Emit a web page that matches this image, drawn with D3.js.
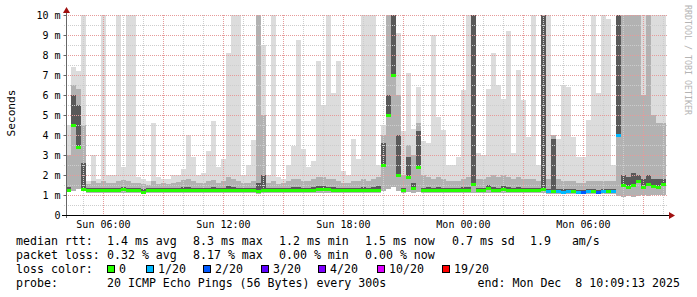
<!DOCTYPE html>
<html>
<head>
<meta charset="utf-8">
<script src="https://cdn.jsdelivr.net/npm/d3@7"></script>
<style>
  body { margin: 0; background: #fff; }
  text { font-family: "DejaVu Sans Mono", monospace; white-space: pre; }
</style>
</head>
<body>
<svg width="697" height="297"></svg>
<script>
// 15 minute bins, Sun 04:09 -> Mon 10:09 (UTC used as wall clock)
const tStart = Date.UTC(2025, 11, 7, 4, 9, 13);
const tEnd = Date.UTC(2025, 11, 8, 10, 9, 13);
const stepMs = 15 * 60 * 1000;

// median rtt (ms)
const med = [1.25,4.5,3.4,1.3,1.25,1.25,1.25,1.25,1.25,1.25,
  1.25,1.3,1.25,1.25,1.25,1.15,1.25,1.25,1.25,1.25,
  1.25,1.25,1.25,1.25,1.25,1.25,1.25,1.25,1.25,1.25,
  1.25,1.25,1.25,1.25,1.25,1.25,1.25,1.25,1.2,1.25,
  1.25,1.25,1.25,1.25,1.25,1.25,1.25,1.25,1.25,1.25,
  1.3,1.3,1.3,1.25,1.25,1.25,1.25,1.25,1.25,1.25,
  1.25,1.25,1.25,2.5,5.0,7.0,2.0,1.25,1.9,1.35,
  2.4,1.25,1.25,1.25,1.25,1.25,1.25,1.25,1.25,1.25,
  1.25,1.55,1.25,1.25,1.35,1.25,1.25,1.3,1.25,1.25,
  1.25,1.25,1.25,1.25,1.25,1.3,1.2,1.2,1.2,1.15,
  1.2,1.2,1.15,1.15,1.2,1.2,1.15,1.2,1.2,1.2,
  4.0,1.5,1.4,1.5,1.7,1.4,1.55,1.45,1.4,1.55];

// slowest ping (light smoke top)
const hi = [4.5,7.4,7.2,10,1.7,3.0,1.8,10,2.0,2.0,
  10,2.4,10,10,1.9,1.8,1.7,4.6,1.9,1.8,
  1.8,2.0,2.0,2.3,4.0,2.9,2.0,2.1,3.2,4.7,
  2.4,2.8,8.1,10,10,2.0,2.5,3.75,10,8.5,
  2.0,10,1.9,1.8,2.5,3.45,8.75,3.3,2.4,2.7,
  7.7,5.5,10,6.1,7.7,2.2,2.0,3.8,2.8,10,
  10,10,2.5,4.5,10,10,9.1,4.2,7.1,4.3,
  6.4,3.7,3.6,9.0,4.9,4.25,2.5,2.5,2.9,6.25,
  10,10,3.1,3.0,6.3,8.1,6.5,5.8,9.2,3.1,
  7.25,5.75,3.9,10,2.5,10,10,4.0,3.8,6.5,
  6.4,3.9,2.9,2.9,4.75,10,6.1,10,9.8,2.5,
  10,10,10,10,10,10,10,10,10,10];

// upper quartile-ish (medium smoke top)
const mid = [3.0,6.5,6.3,4.5,1.55,1.7,1.6,1.7,1.6,1.6,
  1.7,1.75,1.7,1.6,1.6,1.55,1.5,1.7,1.55,1.6,
  1.55,1.6,1.65,1.75,1.8,1.7,1.6,1.6,1.7,1.75,
  1.6,1.7,1.9,1.8,1.7,1.6,1.6,1.7,10,5.0,
  1.6,1.7,1.55,1.6,1.7,1.8,1.8,1.7,1.7,1.8,
  1.9,1.9,1.8,1.8,1.7,1.6,1.6,1.7,1.7,1.8,
  1.7,1.8,1.9,4.0,10,10,6.0,2.0,3.5,3.0,
  4.6,2.0,1.9,1.8,1.9,1.8,1.7,1.7,1.7,1.8,
  1.9,10,1.8,1.8,1.9,2.0,1.9,2.0,1.9,1.8,
  1.9,1.8,1.8,1.8,1.7,10,1.8,4.0,1.8,1.7,
  1.7,1.7,1.6,1.6,1.7,1.7,1.7,1.7,1.7,1.7,
  10,10,10,10,10,6.0,10,5.0,4.6,4.6];

// inner pings (dark smoke top)
const dk = [1.4,6.0,5.5,2.6,1.35,1.35,1.35,1.35,1.35,1.35,
  1.35,1.4,1.35,1.35,1.35,1.3,1.35,1.35,1.35,1.35,
  1.35,1.35,1.35,1.4,1.4,1.35,1.35,1.35,1.35,1.4,
  1.35,1.35,1.45,1.4,1.35,1.35,1.35,1.35,1.6,2.0,
  1.35,1.35,1.35,1.35,1.35,1.4,1.4,1.35,1.35,1.4,
  1.45,1.45,1.4,1.4,1.35,1.35,1.35,1.35,1.35,1.4,
  1.35,1.4,1.45,3.6,6.0,10,4.0,1.35,2.9,1.6,
  4.2,1.35,1.4,1.35,1.4,1.35,1.35,1.35,1.35,1.4,
  1.4,10,1.35,1.35,1.5,1.4,1.35,1.45,1.4,1.35,
  1.4,1.35,1.35,1.35,1.35,10,1.3,3.8,1.3,1.3,
  1.3,1.3,1.25,1.25,1.3,1.3,1.25,1.3,1.3,1.3,
  10,2.0,1.9,2.1,2.0,1.8,2.0,1.8,1.8,1.8];

// fastest ping (smoke bottom)
const lo = [1.15,1.2,1.3,1.2,1.1,1.1,1.1,1.1,1.1,1.1,
  1.1,1.1,1.1,1.1,1.1,1.05,1.1,1.1,1.1,1.1,
  1.1,1.1,1.1,1.1,1.1,1.1,1.1,1.1,1.1,1.1,
  1.1,1.1,1.1,1.1,1.1,1.1,1.1,1.1,1.05,1.1,
  1.1,1.1,1.1,1.1,1.1,1.1,1.1,1.1,1.1,1.1,
  1.1,1.1,1.1,1.1,1.1,1.1,1.1,1.1,1.1,1.1,
  1.1,1.1,1.1,1.2,1.3,1.4,1.2,1.1,1.15,1.1,
  1.15,1.1,1.1,1.1,1.1,1.1,1.1,1.1,1.1,1.1,
  1.1,1.1,1.1,1.1,1.1,1.1,1.1,1.1,1.1,1.1,
  1.1,1.1,1.1,1.1,1.1,1.1,1.05,1.05,1.05,1.05,
  1.05,1.05,1.05,1.05,1.05,1.05,1.05,1.05,1.05,1.05,
  0.95,0.9,0.95,0.9,0.95,1.0,0.95,1.0,1.0,1.0];

// lost pings out of 20
const loss = [0,0,0,0,0,0,0,0,0,0, 0,0,0,0,0,0,0,0,0,0,
  0,0,0,0,0,0,0,0,0,0, 0,0,0,0,0,0,0,0,0,0,
  0,0,0,0,0,0,0,0,0,0, 0,0,0,0,0,0,0,0,0,0,
  0,0,0,0,0,0,0,0,0,0, 0,0,0,0,0,0,0,0,0,0,
  0,0,0,0,0,0,0,0,0,0, 0,0,0,0,0,0,1,0,1,1,
  1,0,1,2,1,0,2,1,0,1, 1,0,0,0,0,0,0,0,0,0];

const lossSteps = [0, 1, 2, 3, 4, 10, 19];
const lossLabels = ['0', '1/20', '2/20', '3/20', '4/20', '10/20', '19/20'];
const lossColors = ['#26ff00', '#00b8ff', '#0059ff', '#5e00ff', '#7e00ff', '#dd00ff', '#ff0000'];

const yTicks = [0, 1, 2, 3, 4, 5, 6, 7, 8, 9, 10];

const rttStats = ['1.4 ms avg', '8.3 ms max', '1.2 ms min', '1.5 ms now', '0.7 ms sd', '1.9   am/s'];
const lossStats = ['0.32 % avg', '8.17 % max', '0.00 % min', '0.00 % now'];
const probeText = '20 ICMP Echo Pings (56 Bytes) every 300s';
const endText = 'end: Mon Dec  8 10:09:13 2025';

(function (d3) {
  'use strict';
  const svg = d3.select('svg');
  const pLeft = 66, pRight = 666, pTop = 15, pBottom = 215;

  const x = d3.scaleUtc().domain([tStart, tEnd]).range([pLeft, pRight]);
  const y = d3.scaleLinear().domain([0, 10]).range([pBottom, pTop]);

  const times = med.map((d, i) => new Date(tStart + i * stepMs));
  const x1 = i => x(new Date(tStart + (i + 1) * stepMs));

  const plot = svg.append('g');

  // smoke, outer (light) to inner (dark)
  const layers = [
    { top: hi, bot: lo, color: '#dcdcdc' },
    { top: mid, bot: lo, color: '#b2b2b2' },
    { top: dk, bot: med, color: '#595959' }
  ];
  layers.forEach(L => {
    plot.append('g').selectAll('rect').data(times).enter().append('rect')
      .attr('x', d => x(d))
      .attr('width', (d, i) => x1(i) - x(d))
      .attr('y', (d, i) => y(L.top[i]))
      .attr('height', (d, i) => y(L.bot[i]) - y(L.top[i]))
      .attr('fill', L.color)
      .attr('shape-rendering', 'crispEdges');
  });

  // grid
  const grid = svg.append('g').attr('stroke-dasharray', '1,1').attr('stroke-width', 1);
  const hours = x.ticks(d3.utcHour.every(1));
  grid.selectAll('.vg').data(hours).enter().append('line')
    .attr('x1', d => Math.round(x(d)) + 0.5).attr('x2', d => Math.round(x(d)) + 0.5)
    .attr('y1', pTop).attr('y2', pBottom)
    .attr('stroke', d => d.getUTCHours() % 3 === 0 ? '#e69a9a' : '#cdcdcd');
  const halfSteps = d3.range(1, 21).map(k => k / 2);
  grid.selectAll('.hg').data(halfSteps).enter().append('line')
    .attr('x1', pLeft - 2).attr('x2', pRight + 2)
    .attr('y1', d => y(d) + 0.5).attr('y2', d => y(d) + 0.5)
    .attr('stroke', d => d % 1 === 0 ? '#e69a9a' : '#cdcdcd');

  // median line coloured by loss
  const lossColor = n => {
    let c = lossColors[0];
    lossSteps.forEach((s, k) => { if (n >= s) c = lossColors[k]; });
    return c;
  };
  svg.append('g').selectAll('rect').data(times).enter().append('rect')
    .attr('x', d => x(d))
    .attr('width', (d, i) => x1(i) - x(d))
    .attr('y', (d, i) => Math.round(y(med[i])) - 1)
    .attr('height', 3)
    .attr('fill', (d, i) => lossColor(loss[i]))
    .attr('shape-rendering', 'crispEdges');

  // axes
  const yAxis = d3.axisLeft(y)
    .tickValues(yTicks)
    .tickSize(3)
    .tickPadding(3)
    .tickFormat(d => d === 0 ? '0' : d + ' m');
  const yAxisG = svg.append('g').attr('transform', `translate(${pLeft + 0.5},0)`).call(yAxis);
  yAxisG.select('.domain').remove();
  yAxisG.selectAll('text').style('font-size', '10px').attr('fill', '#000');
  yAxisG.selectAll('line').attr('stroke', '#666');

  const xAxis = d3.axisBottom(x)
    .ticks(d3.utcHour.every(6))
    .tickSize(0)
    .tickPadding(6)
    .tickFormat(d3.utcFormat('%a %H:%M'));
  const xAxisG = svg.append('g').attr('transform', `translate(0,${pBottom})`).call(xAxis);
  xAxisG.select('.domain').remove();
  xAxisG.selectAll('text').style('font-size', '10px').attr('fill', '#000');

  svg.append('line')
    .attr('x1', pLeft + 0.5).attr('x2', pLeft + 0.5)
    .attr('y1', pBottom + 3).attr('y2', 10)
    .attr('stroke', '#666');
  svg.append('line')
    .attr('x1', pLeft - 4).attr('x2', pRight + 3)
    .attr('y1', pBottom + 0.5).attr('y2', pBottom + 0.5)
    .attr('stroke', '#000');
  svg.append('path')
    .attr('d', `M${pLeft - 3},13 L${pLeft + 0.5},7 L${pLeft + 4},13 Z`)
    .attr('fill', '#a01010');
  svg.append('path')
    .attr('d', `M${pRight + 3},${pBottom - 3} L${pRight + 9},${pBottom + 0.5} L${pRight + 3},${pBottom + 4} Z`)
    .attr('fill', '#a01010');

  // titles
  svg.append('text')
    .attr('transform', 'translate(15,113) rotate(-90)')
    .attr('text-anchor', 'middle')
    .style('font-size', '11.2px')
    .text('Seconds');
  svg.append('text')
    .attr('transform', 'translate(685,5) rotate(90)')
    .style('font-size', '8.3px')
    .attr('fill', '#b4b4b4')
    .text('RRDTOOL / TOBI OETIKER');

  // legend
  const legend = svg.append('g').style('font-size', '11.6px').attr('fill', '#000');
  const rows = [245, 259, 273, 287];
  const statX = [107, 193, 279, 365, 452, 530];
  legend.append('text').attr('x', 16).attr('y', rows[0]).text('median rtt:');
  rttStats.forEach((s, k) => legend.append('text').attr('x', statX[k]).attr('y', rows[0]).text(s));
  legend.append('text').attr('x', 16).attr('y', rows[1]).text('packet loss:');
  lossStats.forEach((s, k) => legend.append('text').attr('x', statX[k]).attr('y', rows[1]).text(s));
  legend.append('text').attr('x', 16).attr('y', rows[2]).text('loss color:');
  const boxX = [107, 146, 203, 261, 318, 377, 442];
  lossLabels.forEach((s, k) => {
    legend.append('rect')
      .attr('x', boxX[k] + 0.5).attr('y', 265.5)
      .attr('width', 7).attr('height', 7)
      .attr('fill', lossColors[k]).attr('stroke', '#000');
    legend.append('text').attr('x', boxX[k] + 12).attr('y', rows[2]).text(s);
  });
  legend.append('text').attr('x', 16).attr('y', rows[3]).text('probe:');
  legend.append('text').attr('x', 107).attr('y', rows[3]).text(probeText);
  legend.append('text').attr('x', 680).attr('y', rows[3]).attr('text-anchor', 'end').text(endText);
}(d3));
</script>
</body>
</html>
